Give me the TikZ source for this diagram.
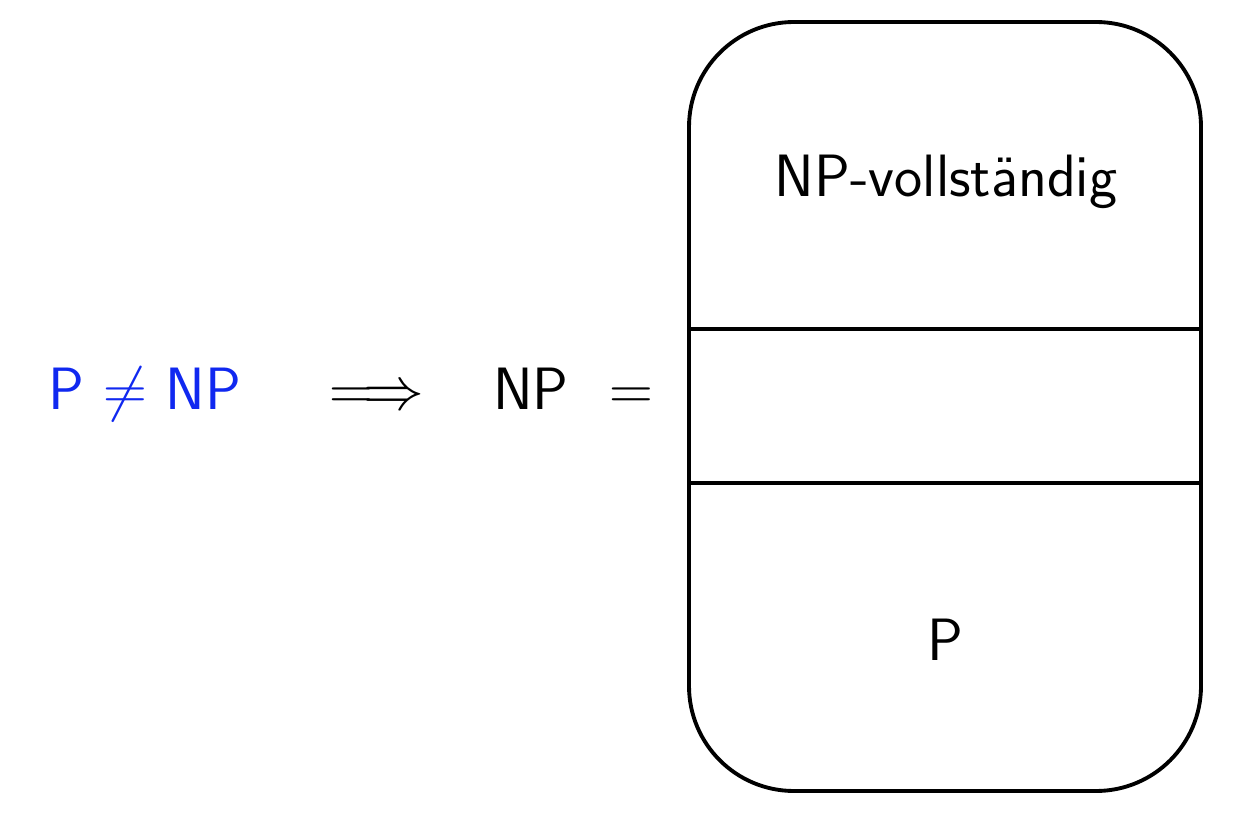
\documentclass[tikz,border=0pt]{standalone}
\definecolor{mblue}{RGB}{16,40,240}
\begin{document}
\begin{tikzpicture}[x=1cm,y=1cm,
  lbl/.style={anchor=base,inner sep=0pt,font=\fontsize{17}{20}\selectfont\sffamily},
  boxline/.style={line width=1.1pt}]
\useasboundingbox (0,0) rectangle (12.42,8.34);
% left formula
\node[lbl,text=mblue] (pnp) at (1.45,4.24) {P $\neq$ NP};
\node[lbl] (impl) at (3.77,4.24) {$\Longrightarrow$};
\node[lbl] (np) at (5.31,4.24) {NP};
\node[lbl] (eq) at (6.31,4.24) {$=$};
% box
\draw[boxline,rounded corners=1.05cm] (6.89,0.43) rectangle (12.01,8.12);
\draw[boxline] (6.89,5.05) -- (12.01,5.05);
\draw[boxline] (6.89,3.51) -- (12.01,3.51);
\node[lbl] (npc) at (9.46,6.37) {NP-vollst\"andig};
\node[lbl] (p) at (9.45,1.74) {P};
\end{tikzpicture}
\end{document}
